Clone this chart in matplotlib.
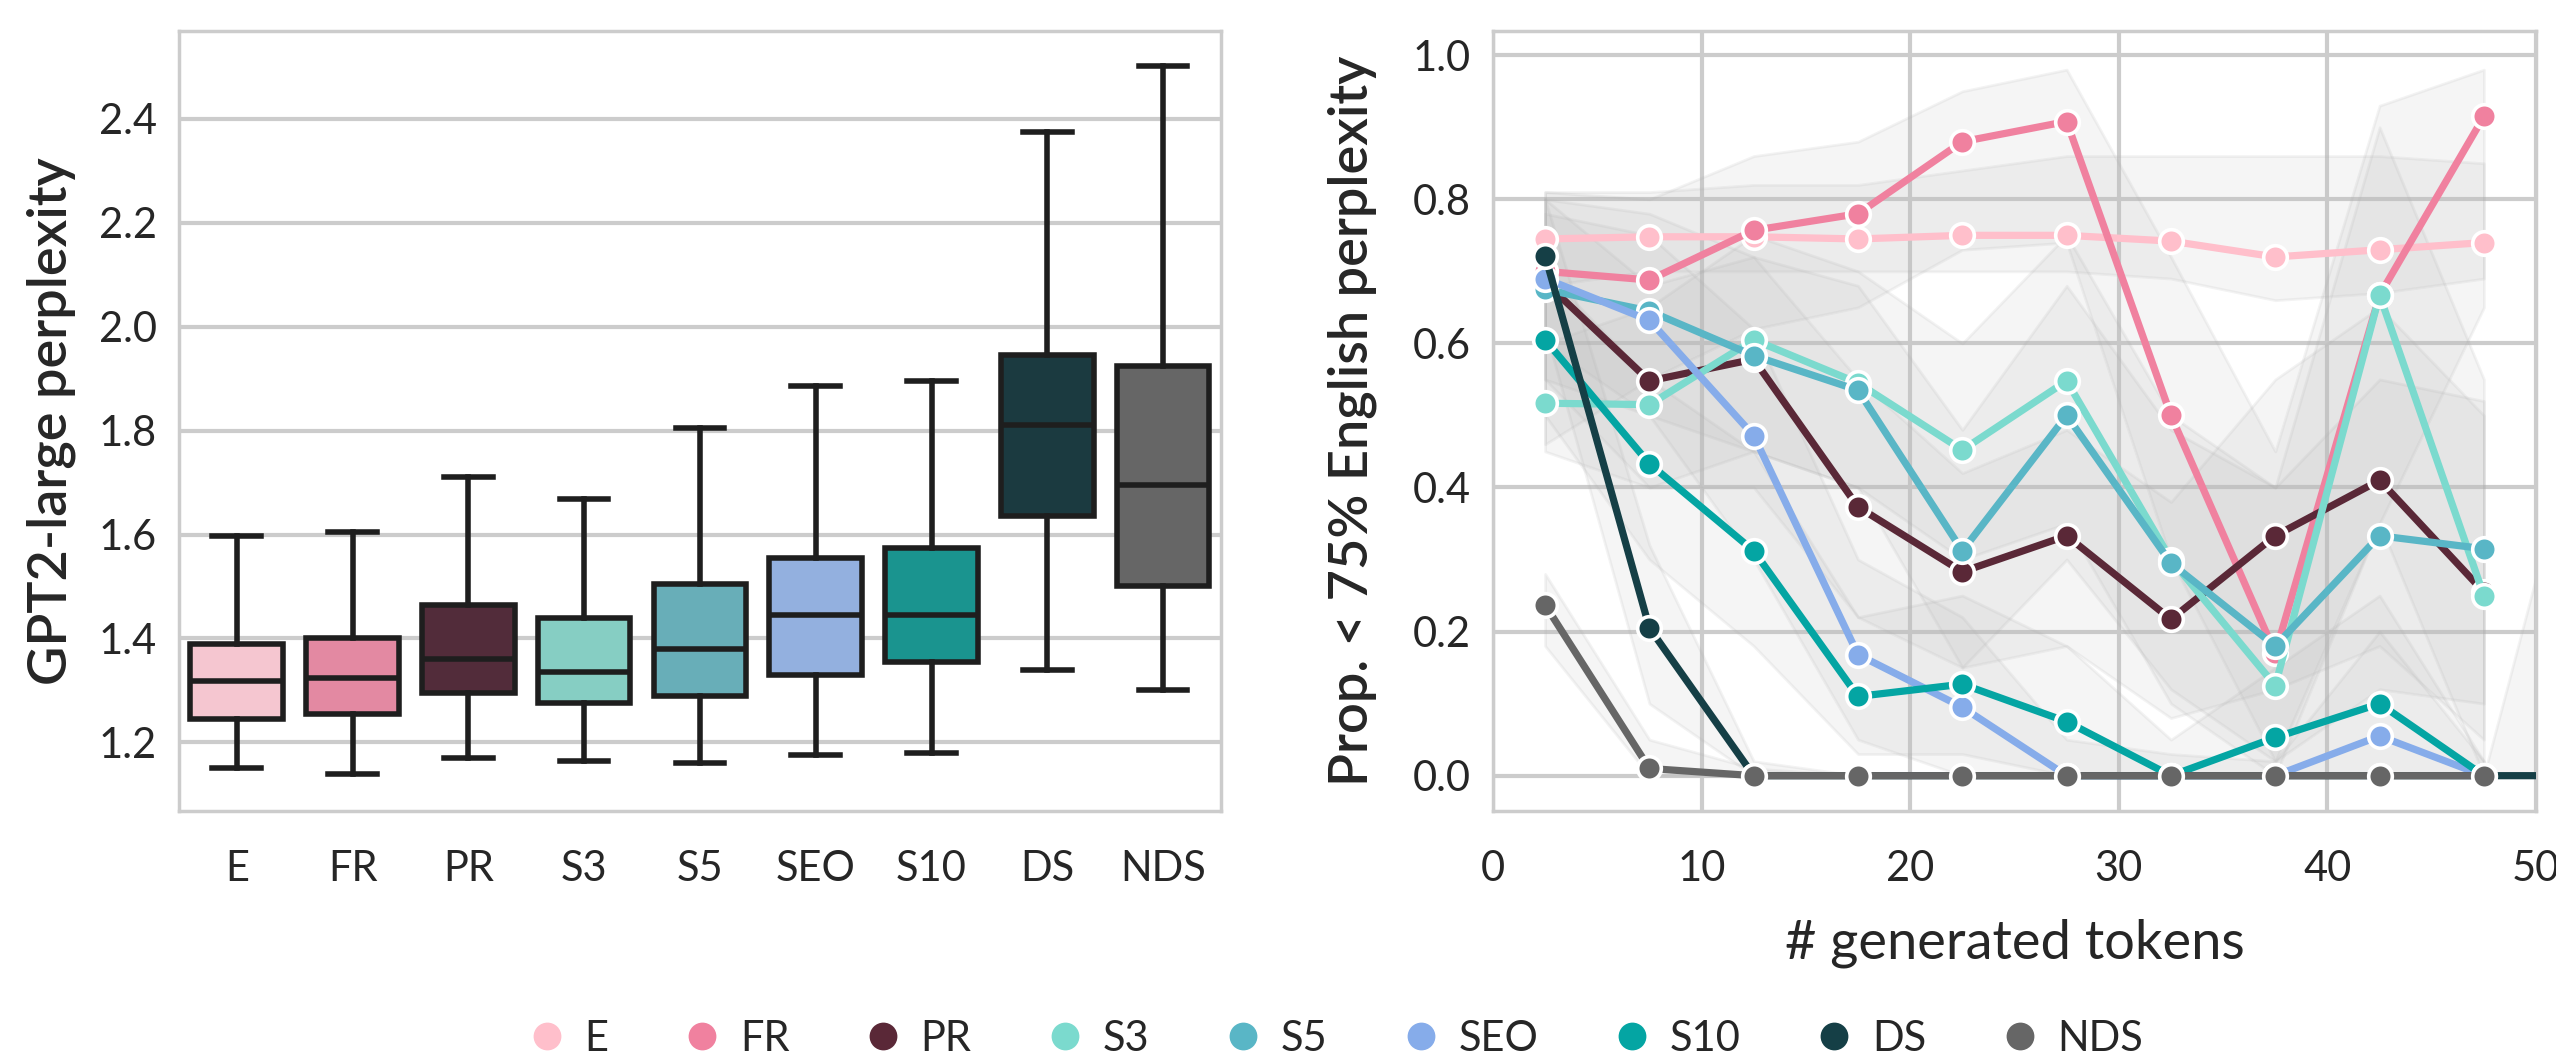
import matplotlib
matplotlib.use("Agg")
import matplotlib.pyplot as plt
from matplotlib.lines import Line2D
import numpy as np

plt.rcParams['font.family'] = ['Lato', 'DejaVu Sans']

# ---------------- data ----------------
categories = ["E", "FR", "PR", "S3", "S5", "SEO", "S10", "DS", "NDS"]

line_colors = ["#FFBFCB", "#F0819F", "#5A2837", "#7BDACE", "#59B6C6",
               "#86ACEA", "#04A5A3", "#153F46", "#666666"]
box_colors = ["#F5C6D0", "#E389A2", "#522C3A", "#86CEC3", "#68AEB8",
              "#93B0DF", "#1A948F", "#1B3A40", "#666666"]

# boxplot stats: whisker low, q1, median, q3, whisker high
whislo = [1.150, 1.140, 1.170, 1.165, 1.160, 1.175, 1.180, 1.340, 1.300]
q1     = [1.245, 1.255, 1.295, 1.275, 1.290, 1.330, 1.355, 1.635, 1.500]
med    = [1.318, 1.323, 1.360, 1.335, 1.380, 1.445, 1.445, 1.810, 1.695]
q3     = [1.390, 1.400, 1.465, 1.440, 1.505, 1.555, 1.575, 1.945, 1.925]
whishi = [1.598, 1.605, 1.710, 1.668, 1.805, 1.885, 1.895, 2.375, 2.502]

tokens = [2.5, 7.5, 12.5, 17.5, 22.5, 27.5, 32.5, 37.5, 42.5, 47.5]
tokens_ds = [2.5, 7.5, 12.5, 17.5, 22.5, 27.5, 32.5, 37.5, 42.5, 47.5, 52.5]

prop_E   = [0.745, 0.748, 0.748, 0.745, 0.750, 0.750, 0.742, 0.720, 0.730, 0.740]
prop_FR  = [0.700, 0.688, 0.757, 0.780, 0.880, 0.908, 0.500, 0.170, 0.667, 0.915]
prop_PR  = [0.685, 0.548, 0.578, 0.373, 0.283, 0.333, 0.217, 0.333, 0.410, 0.255]
prop_S3  = [0.517, 0.515, 0.605, 0.545, 0.452, 0.548, 0.300, 0.125, 0.667, 0.250]
prop_S5  = [0.675, 0.645, 0.583, 0.535, 0.312, 0.500, 0.295, 0.180, 0.333, 0.315]
prop_SEO = [0.690, 0.632, 0.472, 0.168, 0.095, 0.000, 0.000, 0.000, 0.055, 0.000]
prop_S10 = [0.605, 0.433, 0.312, 0.110, 0.127, 0.075, 0.000, 0.053, 0.100, 0.000]
prop_DS  = [0.722, 0.205, 0.000, 0.000, 0.000, 0.000, 0.000, 0.000, 0.000, 0.000, 0.000]
prop_NDS = [0.237, 0.010, 0.000, 0.000, 0.000, 0.000, 0.000, 0.000, 0.000, 0.000]

# approximate confidence bands (lower, upper)
lo_E   = [0.68, 0.70, 0.70, 0.70, 0.70, 0.70, 0.69, 0.66, 0.67, 0.69]
hi_E   = [0.81, 0.81, 0.82, 0.82, 0.84, 0.86, 0.86, 0.86, 0.86, 0.85]
lo_FR  = [0.46, 0.55, 0.62, 0.65, 0.73, 0.74, 0.30, 0.02, 0.35, 0.65]
hi_FR  = [0.81, 0.80, 0.86, 0.88, 0.95, 0.98, 0.72, 0.45, 0.93, 0.98]
lo_PR  = [0.55, 0.40, 0.40, 0.22, 0.15, 0.18, 0.08, 0.12, 0.18, 0.05]
hi_PR  = [0.80, 0.68, 0.72, 0.55, 0.42, 0.48, 0.38, 0.55, 0.65, 0.50]
lo_S3  = [0.45, 0.40, 0.45, 0.40, 0.30, 0.35, 0.10, 0.00, 0.35, 0.00]
hi_S3  = [0.60, 0.65, 0.75, 0.70, 0.60, 0.75, 0.50, 0.40, 0.90, 0.55]
lo_S5  = [0.55, 0.50, 0.45, 0.40, 0.15, 0.30, 0.12, 0.02, 0.12, 0.10]
hi_S5  = [0.80, 0.78, 0.72, 0.68, 0.48, 0.68, 0.48, 0.40, 0.55, 0.52]
lo_SEO = [0.60, 0.50, 0.30, 0.05, 0.00, 0.00, 0.00, 0.00, 0.00, 0.00]
hi_SEO = [0.78, 0.75, 0.62, 0.30, 0.22, 0.05, 0.03, 0.02, 0.20, 0.02]
lo_S10 = [0.50, 0.30, 0.18, 0.03, 0.03, 0.00, 0.00, 0.00, 0.00, 0.00]
hi_S10 = [0.70, 0.55, 0.45, 0.22, 0.25, 0.18, 0.05, 0.15, 0.25, 0.02]
lo_DS  = [0.62, 0.10, 0.00, 0.00, 0.00, 0.00, 0.00, 0.00, 0.00, 0.00, 0.00]
hi_DS  = [0.80, 0.32, 0.02, 0.00, 0.00, 0.00, 0.00, 0.00, 0.00, 0.00, 0.55]
lo_NDS = [0.18, 0.00, 0.00, 0.00, 0.00, 0.00, 0.00, 0.00, 0.00, 0.00]
hi_NDS = [0.28, 0.05, 0.01, 0.00, 0.00, 0.00, 0.00, 0.00, 0.00, 0.00]

series = [
    ("E", tokens, prop_E, lo_E, hi_E),
    ("FR", tokens, prop_FR, lo_FR, hi_FR),
    ("PR", tokens, prop_PR, lo_PR, hi_PR),
    ("S3", tokens, prop_S3, lo_S3, hi_S3),
    ("S5", tokens, prop_S5, lo_S5, hi_S5),
    ("SEO", tokens, prop_SEO, lo_SEO, hi_SEO),
    ("S10", tokens, prop_S10, lo_S10, hi_S10),
    ("DS", tokens_ds, prop_DS, lo_DS, hi_DS),
    ("NDS", tokens, prop_NDS, lo_NDS, hi_NDS),
]

# ---------------- figure ----------------
fig = plt.figure(figsize=(12.78, 5.295), dpi=200)
ax1 = fig.add_axes([0.0700, 0.2342, 0.4077, 0.7361])
ax2 = fig.add_axes([0.5841, 0.2342, 0.4081, 0.7361])

grid_c = "#cccccc"
text_c = "#262626"
for ax in (ax1, ax2):
    ax.set_facecolor("white")
    for s in ax.spines.values():
        s.set_color(grid_c)
        s.set_linewidth(1.25)
    ax.tick_params(axis="y", length=0, labelsize=15, colors=text_c, pad=8)
    ax.tick_params(axis="x", length=0, labelsize=15, colors=text_c, pad=14)
    ax.set_axisbelow(True)

# ---- left: boxplot ----
stats = []
for i, c in enumerate(categories):
    stats.append(dict(label=c, whislo=whislo[i], q1=q1[i], med=med[i],
                      q3=q3[i], whishi=whishi[i], fliers=[]))
edge = "#1e1e1e"
bp = ax1.bxp(stats, positions=np.arange(len(categories)), widths=0.8,
             patch_artist=True, showfliers=False, capwidths=0.42,
             boxprops=dict(edgecolor=edge, linewidth=2.0),
             medianprops=dict(color=edge, linewidth=2.0),
             whiskerprops=dict(color=edge, linewidth=2.0),
             capprops=dict(color=edge, linewidth=2.0))
for patch, fc in zip(bp['boxes'], box_colors):
    patch.set_facecolor(fc)
ax1.set_xlim(-0.5, len(categories) - 0.5)
ax1.set_ylim(1.068, 2.568)
ax1.set_yticks([1.2, 1.4, 1.6, 1.8, 2.0, 2.2, 2.4])
ax1.set_yticklabels(["1.2", "1.4", "1.6", "1.8", "2.0", "2.2", "2.4"])
ax1.set_xticks(np.arange(len(categories)))
ax1.set_xticklabels(categories)
ax1.yaxis.grid(True, color=grid_c, linewidth=1.5)
ax1.xaxis.grid(False)
ax1.set_ylabel("GPT2-large perplexity", fontsize=19.5, color=text_c,
               fontweight="semibold", labelpad=8)

# ---- right: lines ----
for name, x, y, lo, hi in series:
    ax2.fill_between(x, lo, hi, facecolor="#bbbbbb", alpha=0.14,
                     edgecolor="#aaaaaa", linewidth=1.0, zorder=1)
for (name, x, y, lo, hi), col in zip(series, line_colors):
    ax2.plot(x, y, color=col, linewidth=2.6, marker="o", markersize=8.5,
             markeredgecolor="white", markeredgewidth=1.3, zorder=3,
             label=name, clip_on=True)
ax2.set_xlim(0, 50)
ax2.set_ylim(-0.049, 1.033)
ax2.set_xticks([0, 10, 20, 30, 40, 50])
ax2.set_yticks([0.0, 0.2, 0.4, 0.6, 0.8, 1.0])
ax2.set_yticklabels(["0.0", "0.2", "0.4", "0.6", "0.8", "1.0"])
ax2.grid(True, color=grid_c, linewidth=1.5)
ax2.set_xlabel("# generated tokens", fontsize=19.5, color=text_c, labelpad=11)
ax2.set_ylabel("Prop. < 75% English perplexity", fontsize=19.5, color=text_c,
               fontweight="semibold", labelpad=13)

# ---- legend ----
handles = [Line2D([0], [0], marker="o", linestyle="none", markersize=9,
                  markerfacecolor=c, markeredgecolor=c) for c in line_colors]
fig.legend(handles, categories, loc="lower center", ncol=9,
           bbox_to_anchor=(0.523, -0.034), frameon=False, fontsize=15,
           handlelength=0.8, handletextpad=0.5, columnspacing=1.85,
           labelcolor=text_c)

fig.savefig("out.png", dpi=200, facecolor="white")
